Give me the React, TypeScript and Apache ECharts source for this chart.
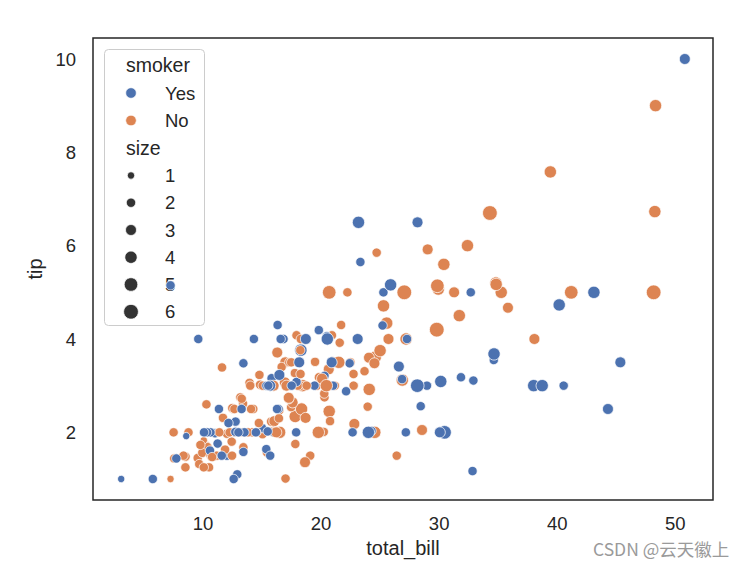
import React, { useEffect, useRef } from "react";
import * as echarts from "echarts";

// tips dataset: total_bill, tip, smoker, size
const totalBill = [
  16.99, 10.34, 21.01, 23.68, 24.59, 25.29, 8.77, 26.88, 15.04, 14.78,
  10.27, 35.26, 15.42, 18.43, 14.83, 21.58, 10.33, 16.29, 16.97, 20.65,
  17.92, 20.29, 15.77, 39.42, 19.82, 17.81, 13.37, 12.69, 21.7, 19.65,
  9.55, 18.35, 15.06, 20.69, 17.78, 24.06, 16.31, 16.93, 18.69, 31.27,
  16.04, 17.46, 13.94, 9.68, 30.4, 18.29, 22.23, 32.4, 28.55, 18.04,
  12.54, 10.29, 34.81, 9.94, 25.56, 19.49, 38.01, 26.41, 11.24, 48.27,
  20.29, 13.81, 11.02, 18.29, 17.59, 20.08, 16.45, 3.07, 20.23, 15.01,
  12.02, 17.07, 26.86, 25.28, 14.73, 10.51, 17.92, 27.2, 22.76, 17.29,
  19.44, 16.66, 10.07, 32.68, 15.98, 34.83, 13.03, 18.28, 24.71, 21.16,
  28.97, 22.49, 5.75, 16.32, 22.75, 40.17, 27.28, 12.03, 21.01, 12.46,
  11.35, 15.38, 44.3, 22.42, 20.92, 15.36, 20.49, 25.21, 18.24, 14.31,
  14.0, 7.25, 38.07, 23.95, 25.71, 17.31, 29.93, 10.65, 12.43, 24.08,
  11.69, 13.42, 14.26, 15.95, 12.48, 29.8, 8.52, 14.52, 11.38, 22.82,
  19.08, 20.27, 11.17, 12.26, 18.26, 8.51, 10.33, 14.15, 16.0, 13.16,
  17.47, 34.3, 41.19, 27.05, 16.43, 8.35, 18.64, 11.87, 9.78, 7.51,
  14.07, 13.13, 17.26, 24.55, 19.77, 29.85, 48.17, 25.0, 13.39, 16.49,
  21.5, 12.66, 16.21, 13.81, 17.51, 24.52, 20.76, 31.71, 10.59, 10.63,
  50.81, 15.81, 7.25, 31.85, 16.82, 32.9, 17.89, 14.48, 9.6, 34.63,
  34.65, 23.33, 45.35, 23.17, 40.55, 20.69, 20.9, 30.46, 18.15, 23.1,
  15.69, 19.81, 28.44, 15.48, 16.58, 7.56, 10.34, 43.11, 13.0, 13.51,
  18.71, 12.74, 13.0, 16.4, 20.53, 16.47, 26.59, 38.73, 24.27, 12.76,
  30.06, 25.89, 48.33, 13.27, 28.17, 12.9, 28.15, 11.59, 7.74, 30.14,
  12.16, 13.42, 8.58, 15.98, 13.42, 16.27, 10.09, 20.45, 13.28, 22.12,
  24.01, 15.69, 11.61, 10.77, 15.53, 10.07, 12.6, 32.83, 35.83, 29.03,
  27.18, 22.67, 17.82, 18.78,
];

const tipAmount = [
  1.01, 1.66, 3.5, 3.31, 3.61, 4.71, 2.0, 3.12, 1.96, 3.23,
  1.71, 5.0, 1.57, 3.0, 3.02, 3.92, 1.67, 3.71, 3.5, 3.35,
  4.08, 2.75, 2.23, 7.58, 3.18, 2.34, 2.0, 2.0, 4.3, 3.0,
  1.45, 2.5, 3.0, 2.45, 3.27, 3.6, 2.0, 3.07, 2.31, 5.0,
  2.24, 2.54, 3.06, 1.32, 5.6, 3.0, 5.0, 6.0, 2.05, 3.0,
  2.5, 2.6, 5.2, 1.56, 4.34, 3.51, 3.0, 1.5, 1.76, 6.73,
  3.21, 2.0, 1.98, 3.76, 2.64, 3.15, 2.47, 1.0, 2.01, 2.09,
  1.97, 3.0, 3.14, 5.0, 2.2, 1.25, 3.08, 4.0, 3.0, 2.71,
  3.0, 3.4, 1.83, 5.0, 2.03, 5.17, 2.0, 4.0, 5.85, 3.0,
  3.0, 3.5, 1.0, 4.3, 3.25, 4.73, 4.0, 1.5, 3.0, 1.5,
  2.5, 3.0, 2.5, 3.48, 4.08, 1.64, 4.06, 4.29, 3.76, 4.0,
  3.0, 1.0, 4.0, 2.55, 4.0, 3.5, 5.07, 1.5, 1.8, 2.92,
  2.31, 1.68, 2.5, 2.0, 2.52, 4.2, 1.48, 2.0, 2.0, 2.18,
  1.5, 2.83, 1.5, 2.0, 3.25, 1.25, 2.0, 2.0, 2.0, 2.75,
  3.5, 6.7, 5.0, 5.0, 2.3, 1.5, 1.36, 1.63, 1.73, 2.0,
  2.5, 2.0, 2.74, 2.0, 2.0, 5.14, 5.0, 3.75, 2.61, 2.0,
  3.5, 2.5, 2.0, 2.0, 3.0, 3.48, 2.24, 4.5, 1.61, 2.0,
  10.0, 3.16, 5.15, 3.18, 4.0, 3.11, 2.0, 2.0, 4.0, 3.55,
  3.68, 5.65, 3.5, 6.5, 3.0, 5.0, 3.5, 2.0, 3.5, 4.0,
  1.5, 4.19, 2.56, 2.02, 4.0, 1.44, 2.0, 5.0, 2.0, 2.0,
  4.0, 2.01, 2.0, 2.5, 4.0, 3.23, 3.41, 3.0, 2.03, 2.23,
  2.0, 5.16, 9.0, 2.5, 6.5, 1.1, 3.0, 1.5, 1.44, 3.09,
  2.2, 3.48, 1.92, 3.0, 1.58, 2.5, 2.0, 3.0, 2.72, 2.88,
  2.0, 3.0, 3.39, 1.47, 3.0, 1.25, 1.0, 1.17, 4.67, 5.92,
  2.0, 2.0, 1.75, 3.0,
];

const smoker = [
  "No", "No", "No", "No", "No", "No", "No", "No", "No", "No",
  "No", "No", "No", "No", "No", "No", "No", "No", "No", "No",
  "No", "No", "No", "No", "No", "No", "No", "No", "No", "No",
  "No", "No", "No", "No", "No", "No", "No", "No", "No", "No",
  "No", "No", "No", "No", "No", "No", "No", "No", "No", "No",
  "No", "No", "No", "No", "No", "No", "Yes", "No", "Yes", "No",
  "Yes", "Yes", "Yes", "Yes", "No", "No", "No", "Yes", "No", "Yes",
  "No", "No", "Yes", "Yes", "No", "No", "Yes", "No", "No", "No",
  "Yes", "No", "No", "Yes", "No", "No", "No", "No", "No", "No",
  "Yes", "No", "Yes", "Yes", "No", "Yes", "Yes", "Yes", "Yes", "No",
  "Yes", "Yes", "Yes", "Yes", "No", "Yes", "Yes", "Yes", "No", "Yes",
  "No", "No", "No", "No", "No", "No", "No", "No", "No", "No",
  "No", "No", "No", "No", "No", "No", "No", "No", "No", "No",
  "No", "No", "No", "No", "No", "No", "No", "No", "Yes", "No",
  "No", "No", "No", "No", "No", "No", "No", "No", "No", "No",
  "No", "No", "No", "No", "No", "No", "No", "No", "No", "No",
  "No", "No", "No", "No", "Yes", "No", "No", "No", "Yes", "Yes",
  "Yes", "Yes", "Yes", "Yes", "Yes", "Yes", "Yes", "Yes", "Yes", "Yes",
  "Yes", "Yes", "Yes", "Yes", "Yes", "No", "Yes", "Yes", "Yes", "Yes",
  "Yes", "Yes", "Yes", "Yes", "Yes", "No", "Yes", "Yes", "Yes", "Yes",
  "Yes", "Yes", "Yes", "Yes", "Yes", "Yes", "Yes", "Yes", "Yes", "Yes",
  "Yes", "Yes", "No", "Yes", "Yes", "Yes", "Yes", "Yes", "Yes", "Yes",
  "Yes", "Yes", "Yes", "No", "Yes", "Yes", "Yes", "No", "No", "Yes",
  "Yes", "Yes", "No", "No", "Yes", "No", "Yes", "Yes", "No", "No",
  "Yes", "Yes", "No", "No",
];

const partySize = [
  2, 3, 3, 2, 4, 4, 2, 4, 2, 2,
  2, 4, 2, 4, 2, 2, 3, 3, 3, 3,
  2, 2, 2, 4, 2, 4, 2, 2, 2, 2,
  2, 4, 2, 4, 2, 3, 3, 3, 3, 3,
  3, 2, 2, 2, 4, 2, 2, 4, 3, 2,
  2, 2, 4, 2, 4, 2, 4, 2, 2, 4,
  2, 2, 2, 4, 3, 3, 2, 1, 2, 2,
  2, 3, 2, 2, 2, 2, 2, 4, 2, 2,
  2, 2, 1, 2, 2, 4, 2, 2, 2, 2,
  2, 2, 2, 2, 2, 4, 2, 2, 2, 2,
  2, 2, 3, 2, 2, 2, 2, 2, 2, 2,
  2, 1, 3, 2, 3, 2, 4, 2, 2, 4,
  2, 2, 2, 2, 2, 6, 2, 2, 2, 3,
  2, 2, 2, 2, 2, 2, 2, 2, 2, 2,
  2, 6, 5, 6, 2, 2, 3, 2, 2, 2,
  2, 2, 3, 4, 4, 5, 6, 4, 2, 4,
  4, 2, 3, 2, 2, 3, 2, 4, 2, 2,
  3, 2, 2, 2, 2, 2, 2, 2, 2, 2,
  4, 2, 3, 4, 2, 5, 3, 5, 3, 3,
  2, 2, 2, 2, 2, 2, 2, 4, 2, 2,
  3, 2, 2, 2, 4, 3, 3, 4, 2, 2,
  3, 4, 4, 2, 3, 2, 5, 2, 2, 4,
  2, 2, 1, 3, 2, 2, 2, 4, 2, 2,
  4, 3, 2, 2, 2, 2, 2, 2, 3, 3,
  2, 2, 2, 2,
];

const smokerLevels = ["Yes", "No"];
const sizeLevels = [1, 2, 3, 4, 5, 6];

const BLUE = "#4C72B0";
const ORANGE = "#DD8452";
const INK = "#262626";
const FONT = '"Liberation Sans", Arial, sans-serif';
const PX_PER_PT = 125 / 72;

const sizeMin = Math.min(...partySize);
const sizeMax = Math.max(...partySize);
// seaborn default marker area range: 18..72 pt^2
const diam = (s: number) =>
  Math.sqrt(18 + (72 - 18) * (s - sizeMin) / (sizeMax - sizeMin)) * PX_PER_PT;

const pad = (lo: number, hi: number) => {
  const r = hi - lo;
  return [lo - 0.05 * r, hi + 0.05 * r];
};

export default function App() {
  const ref = useRef<HTMLDivElement>(null);
  useEffect(() => {
    if (!ref.current) return;
    const chart = echarts.init(ref.current, undefined, { renderer: "svg" });
    const [xMin, xMax] = pad(Math.min(...totalBill), Math.max(...totalBill));
    const [yMin, yMax] = pad(Math.min(...tipAmount), Math.max(...tipAmount));

    const data = totalBill.map((b, i) => ({
      value: [b, tipAmount[i], partySize[i]],
      symbolSize: diam(partySize[i]),
      itemStyle: { color: smoker[i] === "Yes" ? BLUE : ORANGE },
    }));

    const lx = 131; // legend handle centre x
    const tx = 165; // legend label x
    const legendChildren: any[] = [
      {
        type: "rect",
        shape: { x: 104.5, y: 49.5, width: 100, height: 276, r: 4 },
        style: { fill: "rgba(255,255,255,0.8)", stroke: "#cccccc", lineWidth: 1 },
      },
      {
        type: "text",
        x: 126,
        y: 65,
        style: { text: "smoker", fill: INK, fontSize: 19.5, fontFamily: FONT, align: "left", verticalAlign: "middle" },
      },
    ];
    const hueY = [93, 120.5];
    smokerLevels.forEach((lv, i) => {
      legendChildren.push({
        type: "circle",
        shape: { cx: lx, cy: hueY[i], r: 5.3 },
        style: { fill: lv === "Yes" ? BLUE : ORANGE, stroke: "#fff", lineWidth: 0.75 },
      });
      legendChildren.push({
        type: "text",
        x: tx,
        y: hueY[i],
        style: { text: lv, fill: INK, fontSize: 18.5, fontFamily: FONT, align: "left", verticalAlign: "middle" },
      });
    });
    legendChildren.push({
      type: "text",
      x: 126,
      y: 147.5,
      style: { text: "size", fill: INK, fontSize: 19.5, fontFamily: FONT, align: "left", verticalAlign: "middle" },
    });
    sizeLevels.forEach((s, i) => {
      const cy = 175.5 + i * 27.25;
      legendChildren.push({
        type: "circle",
        shape: { cx: lx, cy, r: diam(s) / 2 },
        style: { fill: "#333333", stroke: "#fff", lineWidth: 0.75 },
      });
      legendChildren.push({
        type: "text",
        x: tx,
        y: cy,
        style: { text: String(s), fill: INK, fontSize: 18.5, fontFamily: FONT, align: "left", verticalAlign: "middle" },
      });
    });

    chart.setOption({
      animation: false,
      backgroundColor: "#ffffff",
      grid: {
        show: true,
        left: 93,
        right: 34,
        top: 38,
        bottom: 66,
        borderColor: INK,
        borderWidth: 1.5,
        backgroundColor: "transparent",
      },
      xAxis: {
        type: "value",
        min: xMin,
        max: xMax,
        splitNumber: 5,
        axisLine: { show: false },
        axisTick: { show: false },
        splitLine: { show: false },
        axisLabel: {
          showMinLabel: false,
          showMaxLabel: false,
          color: INK,
          fontSize: 18.5,
          fontFamily: FONT,
          margin: 14,
        },
        name: "total_bill",
        nameLocation: "middle",
        nameGap: 36,
        nameTextStyle: { color: INK, fontSize: 20, fontFamily: FONT },
      },
      yAxis: {
        type: "value",
        min: yMin,
        max: yMax,
        splitNumber: 5,
        axisLine: { show: false },
        axisTick: { show: false },
        splitLine: { show: false },
        axisLabel: {
          showMinLabel: false,
          showMaxLabel: false,
          color: INK,
          fontSize: 18.5,
          fontFamily: FONT,
          margin: 17,
        },
        name: "tip",
        nameLocation: "middle",
        nameGap: 46,
        nameTextStyle: { color: INK, fontSize: 20, fontFamily: FONT },
      },
      series: [
        {
          type: "scatter",
          data,
          itemStyle: { borderColor: "#ffffff", borderWidth: 0.75, opacity: 1 },
          emphasis: { disabled: true },
        },
      ],
      graphic: [
        { type: "group", z: 100, children: legendChildren },
        {
          type: "text",
          z: 100,
          x: 593,
          y: 548,
          style: {
            text: "CSDN @云天徽上",
            fill: "#9a9a9a",
            fontSize: 17.5,
            fontFamily: '"Noto Sans CJK SC", "Liberation Sans", sans-serif',
            align: "left",
            verticalAlign: "middle",
          },
        },
      ],
    });
    return () => chart.dispose();
  }, []);
  return (
    <div
      ref={ref}
      style={{ position: "fixed", left: 0, top: 0, width: 747, height: 566 }}
    />
  );
}
